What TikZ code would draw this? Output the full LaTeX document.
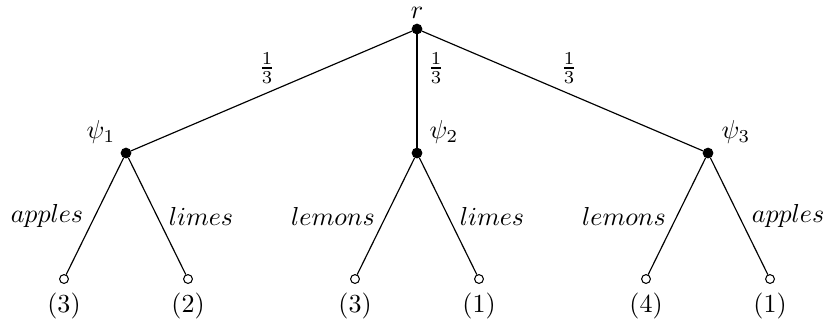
\documentclass[tikz,border=0pt]{standalone}
\begin{document}
\begin{tikzpicture}[x=0.3846pt,y=-0.3846pt,
  inner/.style={circle,fill=black,draw=black,inner sep=0pt,minimum size=3.7pt},
  leaf/.style={circle,fill=white,draw=black,inner sep=0pt,minimum size=3.4pt,line width=0.4pt},
  edge/.style={line width=0.45pt}]
\useasboundingbox (0,0) rectangle (827,331);
\node[inner] (r) at (417,29) {};
\node[inner] (p1) at (126,153) {};
\node[inner] (p2) at (417,153) {};
\node[inner] (p3) at (708,153) {};
\node[leaf] (l1) at (64,279) {};
\node[leaf] (l2) at (188,279) {};
\node[leaf] (l3) at (355,279) {};
\node[leaf] (l4) at (479,279) {};
\node[leaf] (l5) at (646,279) {};
\node[leaf] (l6) at (770,279) {};
\draw[edge] (r) -- (p1);
\draw[edge] (r) -- (p2);
\draw[edge] (r) -- (p3);
\draw[edge] (p1) -- (l1);
\draw[edge] (p1) -- (l2);
\draw[edge] (p2) -- (l3);
\draw[edge] (p2) -- (l4);
\draw[edge] (p3) -- (l5);
\draw[edge] (p3) -- (l6);
\node (tr) at (417,13) {$r$};
\node (t1) at (101,132) {$\psi_1$};
\node (t2) at (444,132) {$\psi_2$};
\node (t3) at (736,132) {$\psi_3$};
\node (f1) at (267,68) {$\frac{1}{3}$};
\node (f2) at (436,68) {$\frac{1}{3}$};
\node (f3) at (569,68) {$\frac{1}{3}$};
\node (e1) at (47,216) {$apples$};
\node (e2) at (201,216) {$limes$};
\node (e3) at (333,216) {$lemons$};
\node (e4) at (492,216) {$limes$};
\node (e5) at (624,216) {$lemons$};
\node (e6) at (788,216) {$apples$};
\node (n1) at (64,306) {(3)};
\node (n2) at (188,306) {(2)};
\node (n3) at (355,306) {(3)};
\node (n4) at (479,306) {(1)};
\node (n5) at (646,306) {(4)};
\node (n6) at (770,306) {(1)};
\end{tikzpicture}
\end{document}
